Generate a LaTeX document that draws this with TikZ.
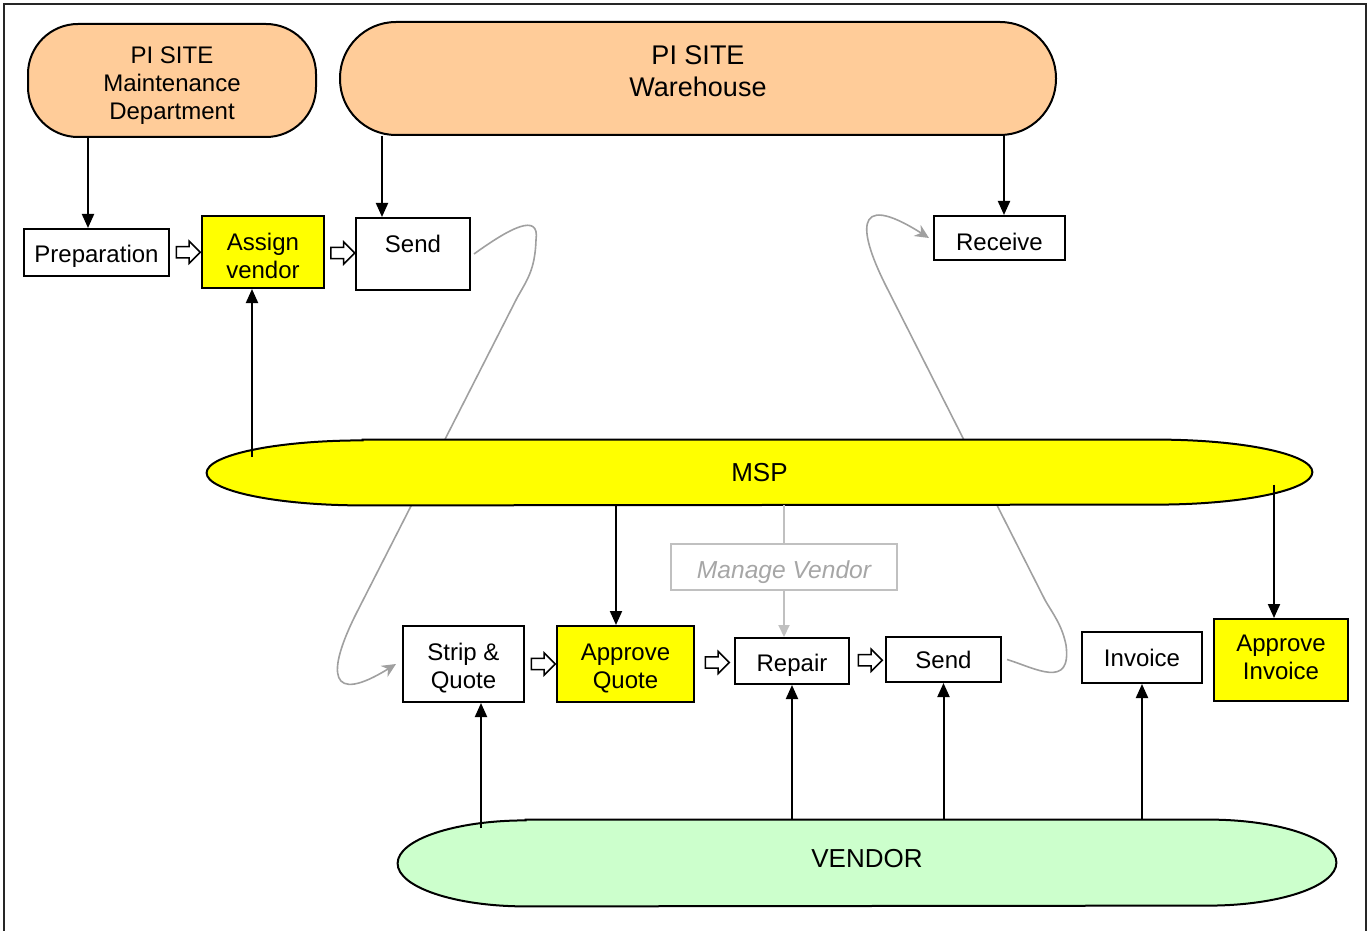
\documentclass[tikz,border=0pt]{standalone}
\usepackage{fontspec}
\setmainfont{Liberation Sans}
\usetikzlibrary{arrows.meta,positioning,shapes.arrows,calc,backgrounds}

\definecolor{sitepeach}{RGB}{255,204,153}
\definecolor{mspyellow}{RGB}{255,255,0}
\definecolor{vendorgreen}{RGB}{204,255,204}
\definecolor{loopgray}{RGB}{160,160,160}
\definecolor{mgrgray}{RGB}{192,192,192}
\definecolor{mgrtext}{RGB}{166,166,166}

% invisible prop that lowers the first text line
\newcommand\lowline[1]{\rule{0pt}{#1}}

\tikzset{
  task/.style={draw, line width=1pt, fill=white, align=center, inner sep=0pt, font=\fontsize{12}{14}\selectfont},
  msptask/.style={task, fill=mspyellow},
  site/.style={draw, line width=1pt, fill=sitepeach, rounded corners=25pt, align=center, inner sep=0pt, font=\fontsize{12}{14}\selectfont},
  party/.style={inner sep=0pt, font=\fontsize{13}{15}\selectfont},
  sink/.style={execute at begin node={\lowline{#1}}},
  flow/.style={line width=1pt, -{Triangle[length=7pt,width=6pt]}},
  loopflow/.style={loopgray, line width=0.8pt, -{Stealth[length=7pt,width=6.5pt]}},
  hollow/.style={single arrow, draw, line width=0.75pt, fill=white, minimum height=12pt, minimum width=10.5pt, single arrow head extend=2.75pt, inner xsep=0pt, inner ysep=2.4pt},
  frame/.style={line width=0.8pt, black!85}
}

\begin{document}
\begin{tikzpicture}[x=0.5pt,y=0.5pt]
  \useasboundingbox (0,0) rectangle (1372,-931);
  % outer frame
  \draw[frame] (4,-945) -- (4,-4) -- (1366,-4) -- (1366,-945);

  % site departments
  \node[site, minimum width=144pt, minimum height=56.5pt] (maint) at (172,-80.5) {\lowline{13.8pt}PI SITE\\Maintenance\\Department};
  \node[site, rounded corners=28pt, minimum width=358pt, minimum height=56.5pt, font=\fontsize{13.5}{16}\selectfont] (wh) at (698,-78.5) {PI SITE\\Warehouse\\[-8.5pt]\mbox{}};

  % top row
  \node[task, sink=12.3pt, minimum width=72.5pt, minimum height=23.5pt] (prep) at (96.5,-252.5) {Preparation};
  \node[msptask, minimum width=61pt, minimum height=36pt] (assign) at (263,-252) {\lowline{12.8pt}Assign\\vendor};
  \node[task, minimum width=57pt, minimum height=36pt] (sendA) at (413,-254) {\lowline{12.3pt}Send\\\mbox{}};
  \node[task, sink=12.8pt, minimum width=65.5pt, minimum height=22pt] (receive) at (999.5,-238) {Receive};

  % MSP and vendor bands (outlines drawn on the background layer)
  \node[party, minimum width=552.5pt, minimum height=32.5pt] (msp) at (759.5,-472.5) {MSP};
  \node[party, text depth=5pt, minimum width=469pt, minimum height=43pt] (vendor) at (867,-863) {VENDOR};

  % MSP oversight
  \node[draw=mgrgray, sink=14.5pt, line width=1pt, minimum width=113pt, minimum height=23pt, inner sep=0pt, text=mgrtext, font=\fontsize{12.3}{14}\selectfont\itshape] (mgr) at (784,-567) {Manage Vendor};

  % bottom row
  \node[task, minimum width=60.5pt, minimum height=38pt] (strip) at (463.5,-664) {\lowline{12.8pt}Strip \&\\Quote};
  \node[msptask, minimum width=68.5pt, minimum height=38pt] (aquote) at (625.5,-664) {\lowline{12.3pt}Approve\\Quote};
  \node[task, sink=12.8pt, minimum width=57pt, minimum height=23pt] (repair) at (792,-661) {Repair};
  \node[task, minimum width=57.5pt, minimum height=22.5pt] (sendB) at (943.5,-659.5) {Send};
  \node[task, minimum width=60pt, minimum height=25.5pt] (invoice) at (1142,-657.5) {Invoice};
  \node[msptask, minimum width=67pt, minimum height=41pt] (ainvoice) at (1281,-660) {Approve\\Invoice\\[-11pt]\mbox{}};

  % step arrows
  \node[hollow] (a1) at ($(prep.east)!0.5!(assign.west)$) {};
  \node[hollow] (a2) at ($(assign.east)!0.5!(sendA.west)$) {};
  \node[hollow] (a3) at ($(strip.east)!0.5!(aquote.west)$) {};
  \node[hollow] (a4) at ($(aquote.east)!0.5!(repair.west)$) {};
  \node[hollow] (a5) at ($(repair.east)!0.5!(sendB.west)$) {};

  % hand-offs
  \coordinate (prepin) at ([xshift=-4.25pt]prep.north);
  \coordinate (sendAin) at ([xshift=-15.5pt]sendA.north);
  \coordinate (recin) at ([xshift=2.25pt]receive.north);
  \coordinate (assignin) at ([xshift=-5.5pt]assign.south);
  \coordinate (aqin) at ([xshift=-4.75pt]aquote.north);
  \coordinate (aiin) at ([xshift=-3.5pt]ainvoice.north);
  \coordinate (stripin) at ([xshift=8.75pt]strip.south);
  \draw[flow] (maint.south -| prepin) -- (prepin);
  \draw[flow] (wh.south -| sendAin) -- (sendAin);
  \draw[flow] (wh.south -| recin) -- (recin);
  \draw[flow] ([yshift=-8.5pt]msp.north -| assignin) -- (assignin);
  \draw[flow] (msp.south -| aqin) -- (aqin);
  \draw[flow] ([yshift=-6pt]msp.center -| aiin) -- (aiin);
  \draw[flow] ([yshift=-4pt]vendor.north -| stripin) -- (stripin);
  \draw[flow] (vendor.north -| repair.south) -- (repair.south);
  \draw[flow] (vendor.north -| sendB.south) -- (sendB.south);
  \draw[flow] (vendor.north -| invoice.south) -- (invoice.south);
  \draw[mgrgray, line width=1pt] (msp.south -| mgr.north) -- (mgr.north);
  \draw[mgrgray, line width=1pt, -{Triangle[length=6pt,width=5.5pt]}] (mgr.south) -- (mgr.south |- repair.north);

  \begin{scope}[on background layer]
    % shipping loops
    \draw[loopflow] ([xshift=1.5pt]sendA.east) .. controls (510,-228) and (540,-212) .. (536,-240)
      .. controls (535,-270) and (527,-280) .. (517,-298) -- (357,-612)
      .. controls (325,-675) and (330,-705) .. ([xshift=-3pt]strip.west);
    \draw[loopflow] ([xshift=2.5pt]sendB.east) .. controls (1035,-668) and (1072,-690) .. (1066,-645)
      .. controls (1062,-625) and (1053,-614) .. (1045,-600) -- (887,-288)
      .. controls (860,-235) and (850,-188) .. ([xshift=-2pt]receive.west);
    % bands
    \filldraw[fill=mspyellow, line width=1pt] ([xshift=78pt]msp.north west) -- ([xshift=-78pt]msp.north east)
      arc[start angle=90, end angle=-90, x radius=78pt, y radius=16.25pt]
      -- ([xshift=78pt]msp.south west)
      arc[start angle=270, end angle=90, x radius=78pt, y radius=16.25pt] -- cycle;
    \filldraw[fill=vendorgreen, line width=1pt] ([xshift=64pt]vendor.north west) -- ([xshift=-64pt]vendor.north east)
      arc[start angle=90, end angle=-90, x radius=64pt, y radius=21.5pt]
      -- ([xshift=64pt]vendor.south west)
      arc[start angle=270, end angle=90, x radius=64pt, y radius=21.5pt] -- cycle;
  \end{scope}
\end{tikzpicture}
\end{document}
